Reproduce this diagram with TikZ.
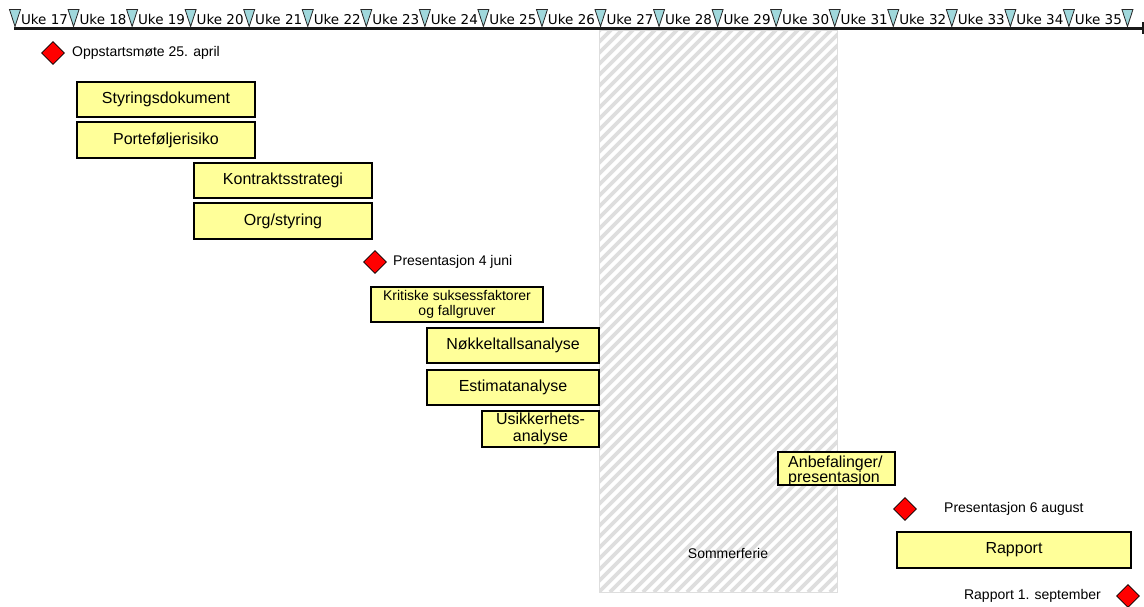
\documentclass[tikz,border=0pt]{standalone}
\usepackage{fontspec}
\setmainfont{Liberation Sans}
\newfontfamily\ukefont{DejaVu Sans}
\usetikzlibrary{shapes.geometric}
\definecolor{boxyellow}{RGB}{255,255,153}
\definecolor{trifill}{RGB}{160,216,220}
\definecolor{hatchgray}{RGB}{222,222,222}
\definecolor{hatchborder}{RGB}{222,222,222}
\definecolor{msred}{RGB}{255,0,0}
\tikzset{
  taskbox/.style={draw=black, line width=1.2pt, fill=boxyellow, inner sep=0pt,
    font=\fontsize{16}{17.5}\selectfont, align=center},
  smallbox/.style={taskbox, font=\fontsize{14}{15}\selectfont},
  milestone/.style={diamond, draw=black, line width=0.6pt, fill=msred, inner sep=0pt,
    minimum width=23pt, minimum height=23pt},
  mstext/.style={font=\fontsize{14}{16}\selectfont, inner sep=0pt},
  weeklabel/.style={font=\ukefont\fontsize{13.5}{15}\selectfont, inner sep=0pt, anchor=base},
  weektri/.style={draw=black!85, line width=0.8pt, fill=trifill, line join=miter},
  axisline/.style={line width=3pt, draw=black!90},
}
\begin{document}
\begin{tikzpicture}[x=1pt,y=-1pt]
\useasboundingbox (0,0) rectangle (1144,606);
\fill[white] (0,0) rectangle (1144,606);

% summer holiday hatched area
\begin{scope}
  \clip (599,30) rectangle (837,592);
  \foreach \k in {-55,...,24} {
    \draw[hatchgray, line width=3.6pt] ({599+11*\k},592) -- ({599+11*\k+562},30);
  }
\end{scope}
\draw[hatchborder, line width=1pt] (599,30) rectangle (837,592);
\node[mstext] (ferie) at (728,553) {Sommerferie};

% time axis
\coordinate (axstart) at (14,28);
\coordinate (axend) at (1142,28);
\draw[axisline] (axstart) -- (axend);
\draw[line width=2pt, black!90] (1142.5,22) -- (1142.5,34);

\foreach \i in {0,...,19} {
  \pgfmathsetmacro{\xc}{15+58.55*\i}
  \draw[weektri] (\xc-5.5,9.5) -- (\xc+5.5,9.5) -- (\xc,26.5) -- cycle;
}
\foreach \i in {0,...,18} {
  \pgfmathsetmacro{\xl}{15+58.55*\i+29.5}
  \pgfmathtruncatemacro{\wk}{17+\i}
  \node[weeklabel] (uke\wk) at (\xl,24.5) {Uke \wk};
}

% milestones
\node[milestone] (m1) at (53,53) {};
\node[mstext, anchor=west] (m1t) at (72,53) {Oppstartsmøte 25. april};
\node[milestone] (m2) at (375,262) {};
\node[mstext, anchor=west] (m2t) at (393,262) {Presentasjon 4 juni};
\node[milestone] (m3) at (905,509) {};
\node[mstext, anchor=west] (m3t) at (944,509) {Presentasjon 6 august};
\node[milestone] (m4) at (1128,596) {};
\node[mstext, anchor=east] (m4t) at (1101,596) {Rapport 1. september};

% tasks
\node[taskbox, minimum width=178pt, minimum height=35pt] (styr) at (166,99.5) {Styringsdokument};
\node[taskbox, minimum width=178pt, minimum height=36pt] (port) at (166,140) {Porteføljerisiko};
\node[taskbox, minimum width=178pt, minimum height=35pt] (kontr) at (283,180.5) {Kontraktsstrategi};
\node[taskbox, minimum width=178pt, minimum height=36pt] (org) at (283,221) {Org/styring};
\node[smallbox, minimum width=172pt, minimum height=35pt] (krit) at (457,304.5) {Kritiske suksessfaktorer\\og fallgruver};
\node[taskbox, minimum width=172pt, minimum height=35pt] (nokk) at (513,345.5) {Nøkkeltallsanalyse};
\node[taskbox, minimum width=172pt, minimum height=35pt] (est) at (513,387.5) {Estimatanalyse};
\node[taskbox, minimum width=117pt, minimum height=36pt] (usik) at (540.5,429) {Usikkerhets-\\analyse};
\node[taskbox, minimum width=117pt, minimum height=33pt] (anbef) at (836.5,468.5) {};
\node[font=\fontsize{16}{15.5}\selectfont, align=left, inner sep=0pt, anchor=base west] (anbeft) at (788,482.5) {Anbefalinger/\\presentasjon};
\node[taskbox, minimum width=234pt, minimum height=36pt] (rapp) at (1014,550) {Rapport};
\end{tikzpicture}
\end{document}
